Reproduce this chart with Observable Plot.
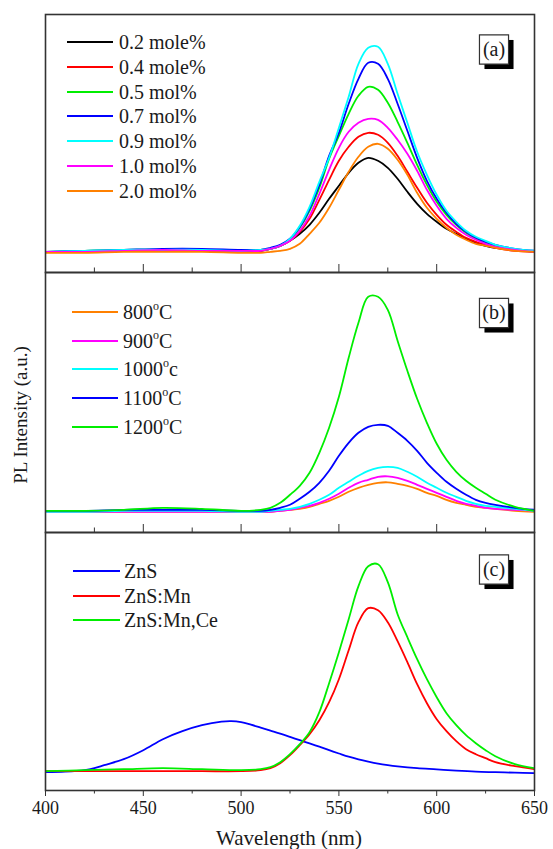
<!DOCTYPE html>
<html><head><meta charset="utf-8">
<script src="https://cdn.jsdelivr.net/npm/d3@7"></script>
<script src="https://cdn.jsdelivr.net/npm/@observablehq/plot@0.6"></script>
<style>
body{margin:0;background:#fff;}
#fig{position:relative;width:553px;height:849px;font-family:"Liberation Serif","Times New Roman",serif;color:#1a1a1a;overflow:hidden;}
.pnl{position:absolute;left:0;}
.leg{position:absolute;font-size:20px;line-height:20px;height:20px;display:flex;align-items:center;white-space:nowrap;}
.leg sup{font-size:12px;position:relative;top:-2px;vertical-align:top;line-height:1;}
.lab{position:absolute;font-size:21px;white-space:nowrap;}
</style></head><body><div id="fig"></div>
<script>
// shared wavelength grid (nm)
const wavelengths = [400,420,440,460,480,500,510,515,520,525,530,535,540,545,550,555,560,565,570,575,580,585,590,595,600,605,610,615,620,625,630,640,650];

// Panel (a) Ce concentration
const labelsA = ["0.2 mole%","0.4 mole%","0.5 mol%","0.7 mol%","0.9 mol%","1.0 mol%","2.0 mol%"];
const colorsA = ["#000000","#ff0000","#00ee00","#0000ff","#00ffff","#ff00ff","#ff8000"];
const a02 = [2,2,3,3,3,2,3,5,8,13,20,29,41,55,68,81,91,96,93,86,75,62,50,40,32,25,20,15,11,8,6,4,2];
const a04 = [2,2,3,3,3,3,3,5,8,13,22,35,54,74,93,107,117,121,119,111,98,82,66,51,39,29,22,16,12,9,6,3,2];
const a05 = [2,3,4,4,4,3,4,5,8,14,26,43,66,95,118,140,158,167,164,151,132,111,89,69,52,39,29,21,15,11,8,4,3];
const a07 = [2,3,4,5,5,4,4,6,9,15,27,45,69,98,121,150,175,191,190,175,150,123,96,73,55,41,30,22,16,12,9,5,3];
const a09 = [2,3,4,4,4,3,4,5,8,15,28,47,72,96,126,157,190,206,207,190,160,131,102,79,59,43,32,23,17,13,9,5,3];
const a10 = [2,2,3,4,3,3,3,5,8,13,23,38,60,84,106,122,131,135,134,126,114,100,83,64,48,35,26,19,14,10,7,4,2];
const a20 = [1,1,2,2,2,1,1,2,3,5,10,20,31,46,64,82,97,107,110,105,94,79,61,46,35,26,19,14,10,8,6,3,2];

// Panel (b) sintering temperature
const labelsB = ["800<sup>o</sup>C","900<sup>o</sup>C","1000<sup>o</sup>c","1100<sup>o</sup>C","1200<sup>o</sup>C"];
const colorsB = ["#ff8000","#ff00ff","#00ffff","#0000ff","#00ee00"];
const b800 = [1,1,1,1,1,1,1,1,2,3,4,6,9,12,16,21,25,28,30,30.5,29,27,24,20,17,13,10,8,6,5,4,2,1];
const b900 = [1,1,1,1,1,1,1,1,2,3,5,7,10,14,19,25,30,33,36,36.5,35,32,28,24,20,16,12,9,7,5,4,3,2];
const b1000 = [1,1,2,2,2,1,1,2,3,4,6,9,13,18,25,31,37,42,45,46,45,41,36,30,25,20,16,12,9,7,6,4,2];
const b1100 = [2,2,3,3,3,2,2,3,5,8,14,21,30,42,57,70,80,86,88,87,80,72,62,50,40,31,24,18,13,10,8,5,3];
const b1200 = [2,2,3,5,4,2,3,5,10,18,27,40,60,85,116,155,190,216,216,203,172,142,114,90,69,53,41,32,25,19,13,6,2];

// Panel (c) samples
const labelsC = ["ZnS","ZnS:Mn","ZnS:Mn,Ce"];
const colorsC = ["#0000ff","#ff0000","#00ee00"];
const wavelengthsZnS = [400,410,420,425,430,440,450,460,470,480,490,495,500,505,510,515,520,525,530,535,540,545,550,555,560,565,570,575,580,590,600,610,620,630,640,650];
const cZnS = [0,0.5,2,4,7,13,22,33,41,47,50.5,51,50,47.5,44.5,41.5,38.5,35.3,32,28.8,25.5,22,18.7,15.5,12.8,10.5,8.5,7,5.8,4,2.8,1.5,0.5,0,-0.5,-1];
const cMn = [1,1,1,1,1,1,2,4,9,17,27,38,52,70,93,122,150,164,162,150,131,110,88,69,53,41,31,23,18,14,10,6,3];
const cMnCe = [1,2,3,4,3,2,3,5,10,18,28,40,60,89,120,153,186,206,208,190,158,135,113,93,75,59,47,37,29,22,16,8,4];

const majorTicks = [400,450,500,550,600,650];
const minorTicks = [425,475,525,575,625];

const fig = document.getElementById("fig");
const FONT = '"Liberation Serif","Times New Roman",serif';

function toRows(wl, vals){ return wl.map((w,i)=>({w, v: vals[i]})); }

function makePanel({series, yDomain, top, height, marginTop, marginBottom, tag, tagDy, bottom}){
  const marks = [];
  series.forEach(s => marks.push(Plot.line(toRows(s.wl, s.v), {x:"w", y:"v", stroke:s.color, strokeWidth:1.8, curve:"catmull-rom", clip:true})));
  if (bottom) {
    marks.push(Plot.axisX({ticks: majorTicks, tickSize: 6, tickPadding: 5, stroke:"#333", fill:"#1a1a1a", fontSize: 18, fontFamily: FONT, label: null}));
    marks.push(Plot.axisX({ticks: minorTicks, tickSize: 3.5, stroke:"#333", tickFormat: () => "", label: null}));
  } else {
    marks.push(Plot.axisX({ticks: majorTicks, tickSize: -8, stroke:"#333", tickFormat: () => "", label: null}));
    marks.push(Plot.axisX({ticks: minorTicks, tickSize: -4.5, stroke:"#333", tickFormat: () => "", label: null}));
  }
  marks.push(Plot.frame({stroke:"#333", strokeWidth:1.6}));
  // panel tag box with shadow
  marks.push(Plot.dot([0], {frameAnchor:"top-right", dx:-40.5+5, dy:tagDy+5, symbol:"square", r:16.4, fill:"#000", stroke:"none"}));
  marks.push(Plot.dot([0], {frameAnchor:"top-right", dx:-40.5, dy:tagDy, symbol:"square", r:16.4, fill:"#fff", stroke:"#333", strokeWidth:1.2}));
  marks.push(Plot.text([tag], {frameAnchor:"top-right", dx:-40.5, dy:tagDy, text: d=>d, fontSize:20, fontFamily: FONT, fill:"#1a1a1a", textAnchor:"middle", lineAnchor:"middle"}));
  const svg = Plot.plot({
    width: 553, height, marginLeft: 45, marginRight: 19, marginTop, marginBottom,
    x: {domain:[400,650]},
    y: {domain: yDomain, axis: null},
    style: {fontFamily: FONT, fontSize: "18px", background: "transparent", overflow: "visible"},
    marks
  });
  const wrap = document.createElement("div");
  wrap.className = "pnl";
  wrap.style.top = top + "px";
  wrap.appendChild(svg);
  fig.appendChild(wrap);
}

function makeLegend(labels, colors, x1, x2, xt, y0, step){
  labels.forEach((lab, i) => {
    const d = document.createElement("div");
    d.className = "leg";
    d.style.left = x1 + "px";
    d.style.top = (y0 + i*step - 10) + "px";
    d.innerHTML = `<svg width="${x2-x1}" height="4" style="display:block"><line x1="0" x2="${x2-x1}" y1="2" y2="2" stroke="${colors[i]}" stroke-width="1.8"/></svg><span style="margin-left:${xt-x2}px">${lab}</span>`;
    fig.appendChild(d);
  });
}

makePanel({
  series: [a02,a04,a05,a07,a09,a10,a20].map((v,i)=>({wl: wavelengths, v, color: colorsA[i]})),
  yDomain: [-18.7, 239.3], top: 0, height: 272, marginTop: 14, marginBottom: 0, tag: "(a)", tagDy: 35
});
makePanel({
  series: [b800,b900,b1000,b1100,b1200].map((v,i)=>({wl: wavelengths, v, color: colorsB[i]})),
  yDomain: [-19.7, 240.3], top: 272, height: 260, marginTop: 0, marginBottom: 0, tag: "(b)", tagDy: 40.5
});
makePanel({
  series: [{wl: wavelengthsZnS, v: cZnS, color: colorsC[0]}, {wl: wavelengths, v: cMn, color: colorsC[1]}, {wl: wavelengths, v: cMnCe, color: colorsC[2]}],
  yDomain: [-18.3, 239.7], top: 532, height: 317, marginTop: 0, marginBottom: 59, tag: "(c)", tagDy: 37, bottom: true
});

makeLegend(labelsA, colorsA, 67, 113, 119, 42, 24.8);
makeLegend(labelsB, colorsB, 72, 118, 123, 312, 28.7);
makeLegend(labelsC, colorsC, 73, 120, 124, 571, 24.5);

// axis titles
const xl = document.createElement("div");
xl.className = "lab";
xl.textContent = "Wavelength (nm)";
xl.style.left = "289px"; xl.style.top = "838px";
xl.style.transform = "translate(-50%,-50%)";
fig.appendChild(xl);
const yl = document.createElement("div");
yl.className = "lab";
yl.textContent = "PL Intensity (a.u.)";
yl.style.fontSize = "19px";
yl.style.left = "21px"; yl.style.top = "415px";
yl.style.transform = "translate(-50%,-50%) rotate(-90deg)";
fig.appendChild(yl);
</script></body></html>
